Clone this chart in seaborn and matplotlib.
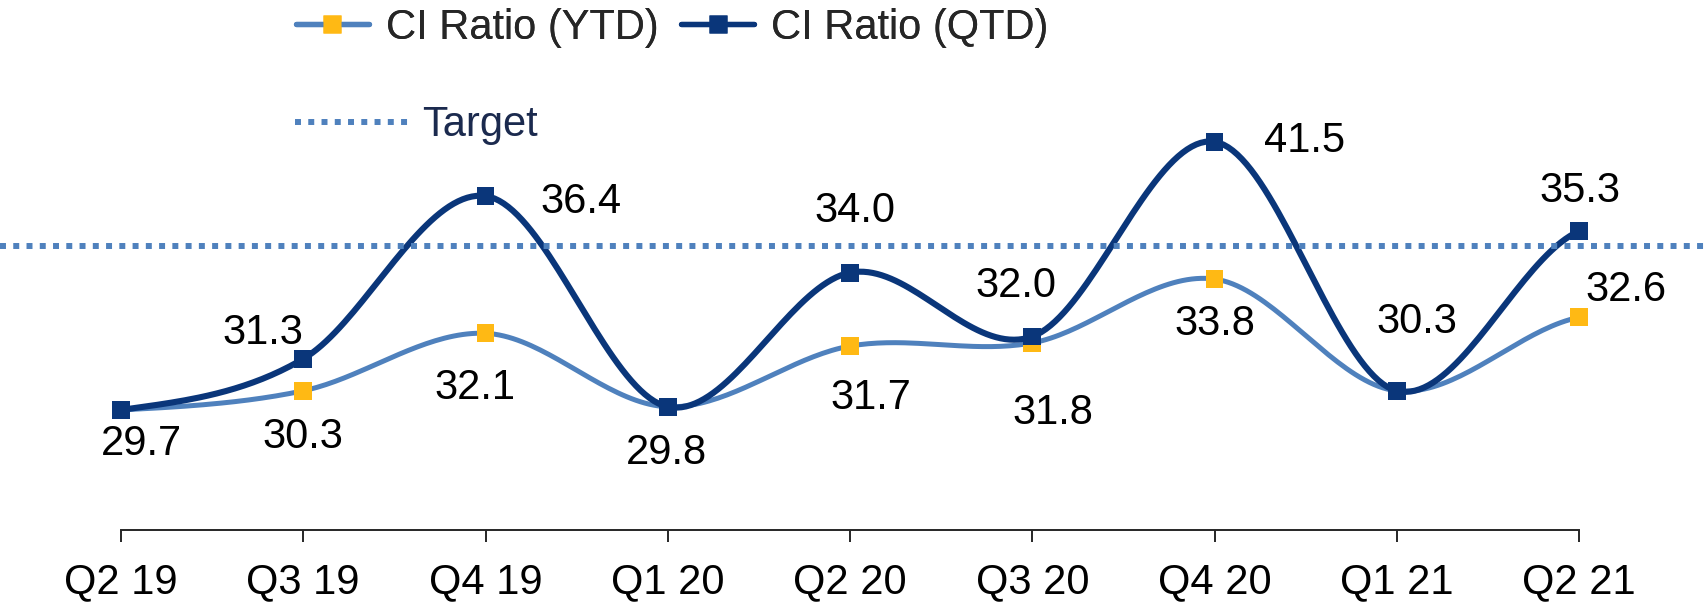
import numpy as np
import pandas as pd
import matplotlib
matplotlib.use("Agg")
import matplotlib.pyplot as plt
from matplotlib.lines import Line2D
import seaborn as sns

# --- data ---
quarters = ["Q2 19", "Q3 19", "Q4 19", "Q1 20", "Q2 20", "Q3 20", "Q4 20", "Q1 21", "Q2 21"]
ytd = [29.7, 30.3, 32.1, 29.8, 31.7, 31.8, 33.8, 30.3, 32.6]
qtd = [29.7, 31.3, 36.4, 29.8, 34.0, 32.0, 41.5, 30.3, 35.3]
# the Q4 20 point sits lower than its label in the original (compressed axis)
qtd_plotted = [29.7, 31.3, 36.4, 29.8, 34.0, 32.0, 38.1, 30.3, 35.3]
target = 34.85

# label offsets in pixels from the marker (dx, dy up), None = shared label drawn by the other series
ytd_off = [(20, -45), (0, -57), (-11, -66), (-1, -57), (21, -63), (21, -81), (0, -56), (20, 58), (47, 16)]
qtd_off = [None, (-40, 15), (95, -17), None, (5, 51), (-16, 40), (90, -10), None, (1, 29)]

C_YTD = "#4F81BD"
C_YTD_MK = "#FFB914"
C_QTD = "#0A367A"
C_TGT = "#4F81BD"
TGT_DASH = (0, (1.0, 1.22))

sns.set_theme(style="white")
plt.rcParams["font.family"] = ["Liberation Sans", "DejaVu Sans"]


def smooth(vals, n=40):
    # Catmull-Rom style smoothing, like Excel's "smoothed line"
    y = np.asarray(vals, dtype=float)
    m = np.zeros_like(y)
    m[1:-1] = (y[2:] - y[:-2]) / 2
    m[0] = (y[1] - y[0]) / 2
    m[-1] = (y[-1] - y[-2]) / 2
    xs, ys = [], []
    for i in range(len(y) - 1):
        t = np.linspace(0, 1, n, endpoint=False)
        h00 = 2 * t**3 - 3 * t**2 + 1
        h10 = t**3 - 2 * t**2 + t
        h01 = -2 * t**3 + 3 * t**2
        h11 = t**3 - t**2
        xs.append(i + t)
        ys.append(h00 * y[i] + h10 * m[i] + h01 * y[i + 1] + h11 * m[i + 1])
    xs.append([len(y) - 1])
    ys.append([y[-1]])
    return pd.DataFrame({"x": np.concatenate(xs), "y": np.concatenate(ys)})


fig = plt.figure(figsize=(17.07, 6.11), dpi=100)
ax = fig.add_axes([0, 81 / 611, 1, 530 / 611])

sns.lineplot(data=smooth(ytd), x="x", y="y", ax=ax, color=C_YTD, lw=3.6, sort=False, zorder=2)
sns.lineplot(data=smooth(qtd_plotted), x="x", y="y", ax=ax, color=C_QTD, lw=4.4, sort=False, zorder=3)

ax.axhline(target, color=C_TGT, lw=4.3, ls=TGT_DASH, dash_capstyle="butt", zorder=4)

pts = pd.DataFrame({"x": np.arange(len(quarters)), "ytd": ytd, "qtd": qtd_plotted})
sns.scatterplot(data=pts, x="x", y="ytd", ax=ax, marker="s", s=165, color=C_YTD_MK,
                edgecolor="none", linewidth=0, zorder=5)
sns.scatterplot(data=pts, x="x", y="qtd", ax=ax, marker="s", s=165, color=C_QTD,
                edgecolor="none", linewidth=0, zorder=6)

for i in range(len(quarters)):
    if ytd_off[i] is not None:
        ax.annotate(f"{ytd[i]:.1f}", (i, ytd[i]), xytext=ytd_off[i], textcoords="offset pixels",
                    ha="center", va="baseline", fontsize=30, color="black")
    if qtd_off[i] is not None:
        ax.annotate(f"{qtd[i]:.1f}", (i, qtd_plotted[i]), xytext=qtd_off[i], textcoords="offset pixels",
                    ha="center", va="baseline", fontsize=30, color="black")

step = 182.25
ax.set_xlim(-121 / step, 8 + (1707 - 1579) / step)
ax.set_ylim(25.94, 42.54)
ax.set_xticks(range(len(quarters)))
ax.set_xticklabels(quarters, fontsize=30)
ax.set_yticks([])
ax.set_xlabel("")
ax.set_ylabel("")
for s in ["top", "right", "left"]:
    ax.spines[s].set_visible(False)
ax.spines["bottom"].set_bounds(0, 8)
ax.spines["bottom"].set_color("#262626")
ax.spines["bottom"].set_linewidth(1.4)
ax.tick_params(axis="x", direction="out", length=8.6, width=1.4, color="#262626", pad=14.5,
               bottom=True, labelcolor="black")

# --- legend ---
h_ytd = Line2D([], [], color=C_YTD, lw=3.8, marker="s", markersize=12.5, markerfacecolor=C_YTD_MK,
               markeredgecolor="none", solid_capstyle="round")
h_qtd = Line2D([], [], color=C_QTD, lw=3.8, marker="s", markersize=12.5, markerfacecolor=C_QTD,
               markeredgecolor="none", solid_capstyle="round")
h_tgt = Line2D([], [], color=C_TGT, lw=4.3, ls=TGT_DASH, dash_capstyle="butt")

leg1 = fig.legend([h_ytd, h_qtd], ["CI Ratio (YTD)", "CI Ratio (QTD)"], loc="center left",
                  bbox_to_anchor=(296 / 1707, 1 - 27.5 / 611), ncol=2, frameon=False,
                  prop={"size": 30}, handlelength=1.75, handletextpad=0.4,
                  columnspacing=0.55, borderpad=0, borderaxespad=0)
leg2 = fig.legend([h_tgt], ["Target"], loc="center left",
                  bbox_to_anchor=(295 / 1707, 1 - 125.5 / 611), frameon=False,
                  prop={"size": 30}, handlelength=2.7, handletextpad=0.36,
                  borderpad=0, borderaxespad=0, labelcolor="#1B2A4E")
fig.add_artist(leg1)

fig.savefig("out.png", dpi=100)
